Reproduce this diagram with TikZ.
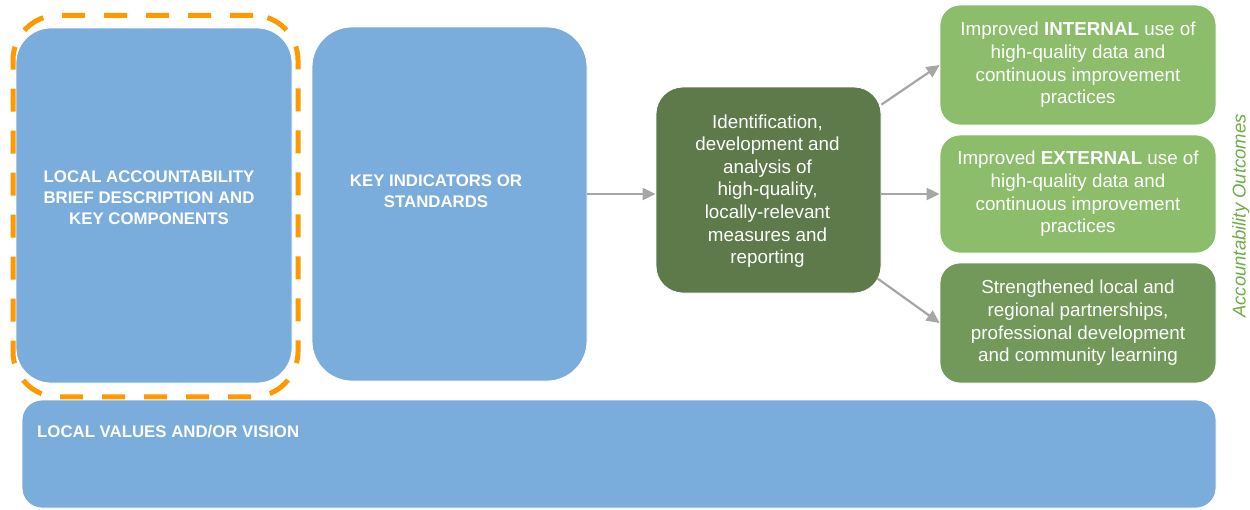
\documentclass[tikz,border=0pt]{standalone}
\usepackage{fontspec}
\setmainfont{Liberation Sans}
\usetikzlibrary{arrows.meta,calc}
\definecolor{boxblue}{HTML}{7BADDC}
\definecolor{darkgreen}{HTML}{5E7A4B}
\definecolor{lightgreen}{HTML}{8CBD6B}
\definecolor{midgreen}{HTML}{72995A}
\definecolor{dashorange}{HTML}{FF9900}
\definecolor{arrowgray}{HTML}{A6A6A6}
\definecolor{outgreen}{HTML}{70AD47}
\begin{document}
\begin{tikzpicture}[x=1pt,y=-1pt,
  bluebox/.style={rectangle,fill=boxblue,draw=white,line width=0.8pt,inner sep=0pt},
  greenbox/.style={rectangle,draw=white,line width=0.8pt,inner sep=0pt,minimum width=276pt,rounded corners=20pt},
  captext/.style={text=white,font=\bfseries\fontsize{16.8}{21}\selectfont,align=center,inner sep=0pt},
  bodytext/.style={text=white,font=\fontsize{18.8}{22.6}\selectfont,align=center,inner sep=0pt},
  flow/.style={draw=arrowgray,line width=2.2pt,-{Triangle[length=13pt,width=12pt]}}
]
\useasboundingbox (0,0) rectangle (1250,509);
\fill[white] (0,0) rectangle (1250,509);

% blue boxes
\node[bluebox,minimum width=276pt,minimum height=355pt,rounded corners=35pt] (b1) at (154,205.5) {};
\node[bluebox,minimum width=275pt,minimum height=354pt,rounded corners=40pt] (b2) at (449.5,204) {};
\node[bluebox,minimum width=1194pt,minimum height=108pt,rounded corners=20pt] (bot) at (619,454) {};

% orange dashed highlight
\node[rectangle,draw=dashorange,line width=5pt,dash pattern=on 23pt off 19pt,rounded corners=45pt,minimum width=285pt,minimum height=381.5pt,inner sep=0pt] (hl) at (155.5,206) {};

% texts of blue boxes
\node[captext] (t1) at (149,198) {LOCAL ACCOUNTABILITY\\BRIEF DESCRIPTION AND\\KEY COMPONENTS};
\node[captext] (t2) at (436,191) {KEY INDICATORS OR\\STANDARDS};
\node[captext,anchor=base west] (t3) at (37,437) {LOCAL VALUES AND/OR VISION};

% centre box
\node[rectangle,fill=darkgreen,draw=white,line width=0.8pt,minimum width=225pt,minimum height=206pt,rounded corners=27pt,inner sep=0pt] (c) at (768.5,190) {};
\node[bodytext] (ct) at (767.5,191) {Identification,\\development and\\analysis of\\high-quality,\\locally-relevant\\measures and\\reporting};

% outcome boxes
\node[greenbox,fill=lightgreen,minimum height=120pt] (r1) at (1078,65) {};
\node[bodytext] at (r1.center) {Improved \textbf{INTERNAL} use of\\high-quality data and\\continuous improvement\\practices};
\node[greenbox,fill=lightgreen,minimum height=118pt] (r2) at (1078,194) {};
\node[bodytext] at (r2.center) {Improved \textbf{EXTERNAL} use of\\high-quality data and\\continuous improvement\\practices};
\node[greenbox,fill=midgreen,minimum height=120pt] (r3) at (1078,323) {};
\node[bodytext] at (r3.center) {Strengthened local and\\regional partnerships,\\professional development\\and community learning};

% side label
\node[rotate=90,text=outgreen,font=\itshape\fontsize{18.5}{22}\selectfont,inner sep=0pt,anchor=base] (lab) at (1245.5,216) {Accountability Outcomes};

% arrows
\draw[flow] (b2.east |- 0,194) -- (c.west |- 0,194);
\draw[flow] ($(c.north east)+(0,18)$) -- (r1.west);
\draw[flow] (c.east |- r2.west) -- (r2.west);
\draw[flow] ($(c.south east)+(-4,-15)$) -- (r3.west);
\end{tikzpicture}
\end{document}
